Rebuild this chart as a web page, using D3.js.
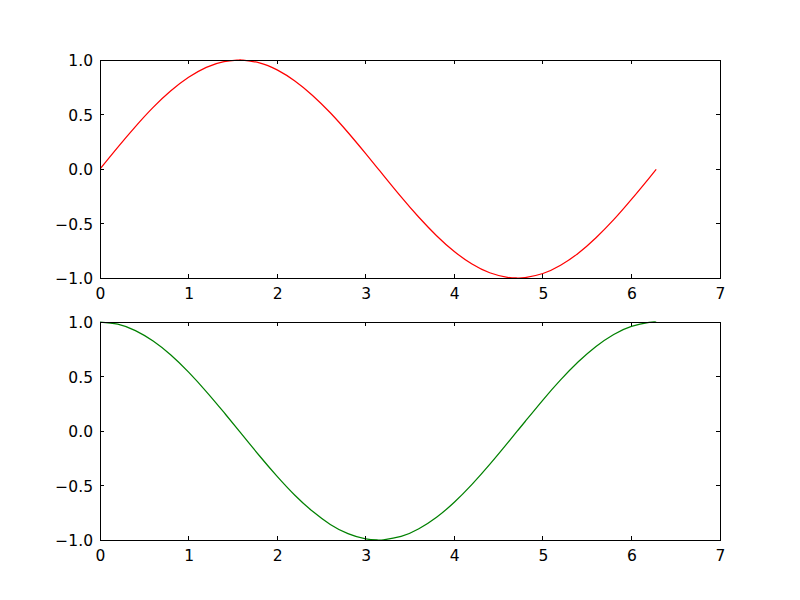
<!DOCTYPE html>
<html>
<head>
<meta charset="utf-8">
<script src="https://cdn.jsdelivr.net/npm/d3@7"></script>
<style>
body { margin: 0; background: #fff; }
svg { display: block; }
text { font-family: "DejaVu Sans", sans-serif; font-size: 15.5px; fill: #000; }
</style>
</head>
<body>
<svg id="chart" width="800" height="600"></svg>
<script>
// sample positions
const xValues = [0, 0.2, 0.4, 0.6, 0.8, 1.0, 1.2, 1.4, 1.57, 1.6, 1.8, 2.0, 2.2, 2.4, 2.6, 2.8, 3.0, 3.14, 3.2, 3.4, 3.6, 3.8, 4.0, 4.2, 4.4, 4.6, 4.71, 4.8, 5.0, 5.2, 5.4, 5.6, 5.8, 6.0, 6.2, 6.28];
// top series (red)
const topValues = [0, 0.199, 0.389, 0.565, 0.717, 0.841, 0.932, 0.985, 1.000, 1.000, 0.974, 0.909, 0.808, 0.675, 0.516, 0.335, 0.141, 0.002, -0.058, -0.256, -0.443, -0.612, -0.757, -0.872, -0.952, -0.994, -1.000, -0.996, -0.959, -0.883, -0.773, -0.631, -0.465, -0.279, -0.083, -0.003];
// bottom series (green)
const bottomValues = [1.000, 0.980, 0.921, 0.825, 0.697, 0.540, 0.362, 0.170, 0.001, -0.029, -0.227, -0.416, -0.589, -0.737, -0.857, -0.942, -0.990, -1.000, -0.998, -0.967, -0.897, -0.791, -0.654, -0.490, -0.307, -0.112, -0.002, 0.087, 0.284, 0.469, 0.635, 0.776, 0.886, 0.960, 0.997, 1.000];
const xTicks = [0, 1, 2, 3, 4, 5, 6, 7];
const yTicks = [-1.0, -0.5, 0.0, 0.5, 1.0];

const svg = d3.select("#chart");
const left = 100, right = 720;
const panels = [
  { top: 60, bottom: 278, values: topValues, color: "#ff0000" },
  { top: 322, bottom: 540, values: bottomValues, color: "#008000" }
];
const fmtY = v => (v < 0 ? "\u2212" : "") + Math.abs(v).toFixed(1);

panels.forEach(p => {
  const x = d3.scaleLinear().domain([0, 7]).range([left, right]);
  const y = d3.scaleLinear().domain([-1, 1]).range([p.bottom, p.top]);
  const g = svg.append("g");

  const clipId = "clip" + Math.round(p.top);
  svg.append("clipPath").attr("id", clipId).append("rect")
    .attr("x", left).attr("y", p.top - 1).attr("width", right - left).attr("height", p.bottom - p.top + 2);

  const line = d3.line().x((d, i) => x(xValues[i])).y(d => y(d)).curve(d3.curveNatural);
  g.append("path").datum(p.values)
    .attr("d", line)
    .attr("fill", "none")
    .attr("stroke", p.color)
    .attr("stroke-width", 1.25)
    .attr("clip-path", `url(#${clipId})`);

  // ticks inside on all sides
  const tl = 4;
  const ax = d3.axisBottom(x).tickValues(xTicks).tickSize(0).tickPadding(0).tickFormat(d3.format("d"));
  const xb = g.append("g").attr("transform", `translate(0,${p.bottom})`).call(ax);
  xb.select(".domain").remove();
  xb.selectAll("text").attr("dy", null).attr("y", 20.5).style("font-size", "15.5px").style("font-family", "DejaVu Sans");

  const ay = d3.axisLeft(y).tickValues(yTicks).tickSize(0).tickPadding(0).tickFormat(fmtY);
  const yb = g.append("g").attr("transform", `translate(${left},0)`).call(ay);
  yb.select(".domain").remove();
  yb.selectAll("text").attr("x", -7).attr("dy", "0.36em").style("font-size", "15.5px").style("font-family", "DejaVu Sans");

  const tg = g.append("g").attr("stroke", "#000").attr("stroke-width", 1).attr("shape-rendering", "crispEdges");
  xTicks.forEach(t => {
    tg.append("line").attr("x1", x(t)).attr("x2", x(t)).attr("y1", p.bottom).attr("y2", p.bottom - tl);
    tg.append("line").attr("x1", x(t)).attr("x2", x(t)).attr("y1", p.top).attr("y2", p.top + tl);
  });
  yTicks.forEach(t => {
    tg.append("line").attr("x1", left).attr("x2", left + tl).attr("y1", y(t)).attr("y2", y(t));
    tg.append("line").attr("x1", right).attr("x2", right - tl).attr("y1", y(t)).attr("y2", y(t));
  });

  g.append("rect").attr("x", left).attr("y", p.top)
    .attr("width", right - left).attr("height", p.bottom - p.top)
    .attr("fill", "none").attr("stroke", "#000").attr("stroke-width", 1)
    .attr("shape-rendering", "crispEdges");
});
</script>
</body>
</html>
